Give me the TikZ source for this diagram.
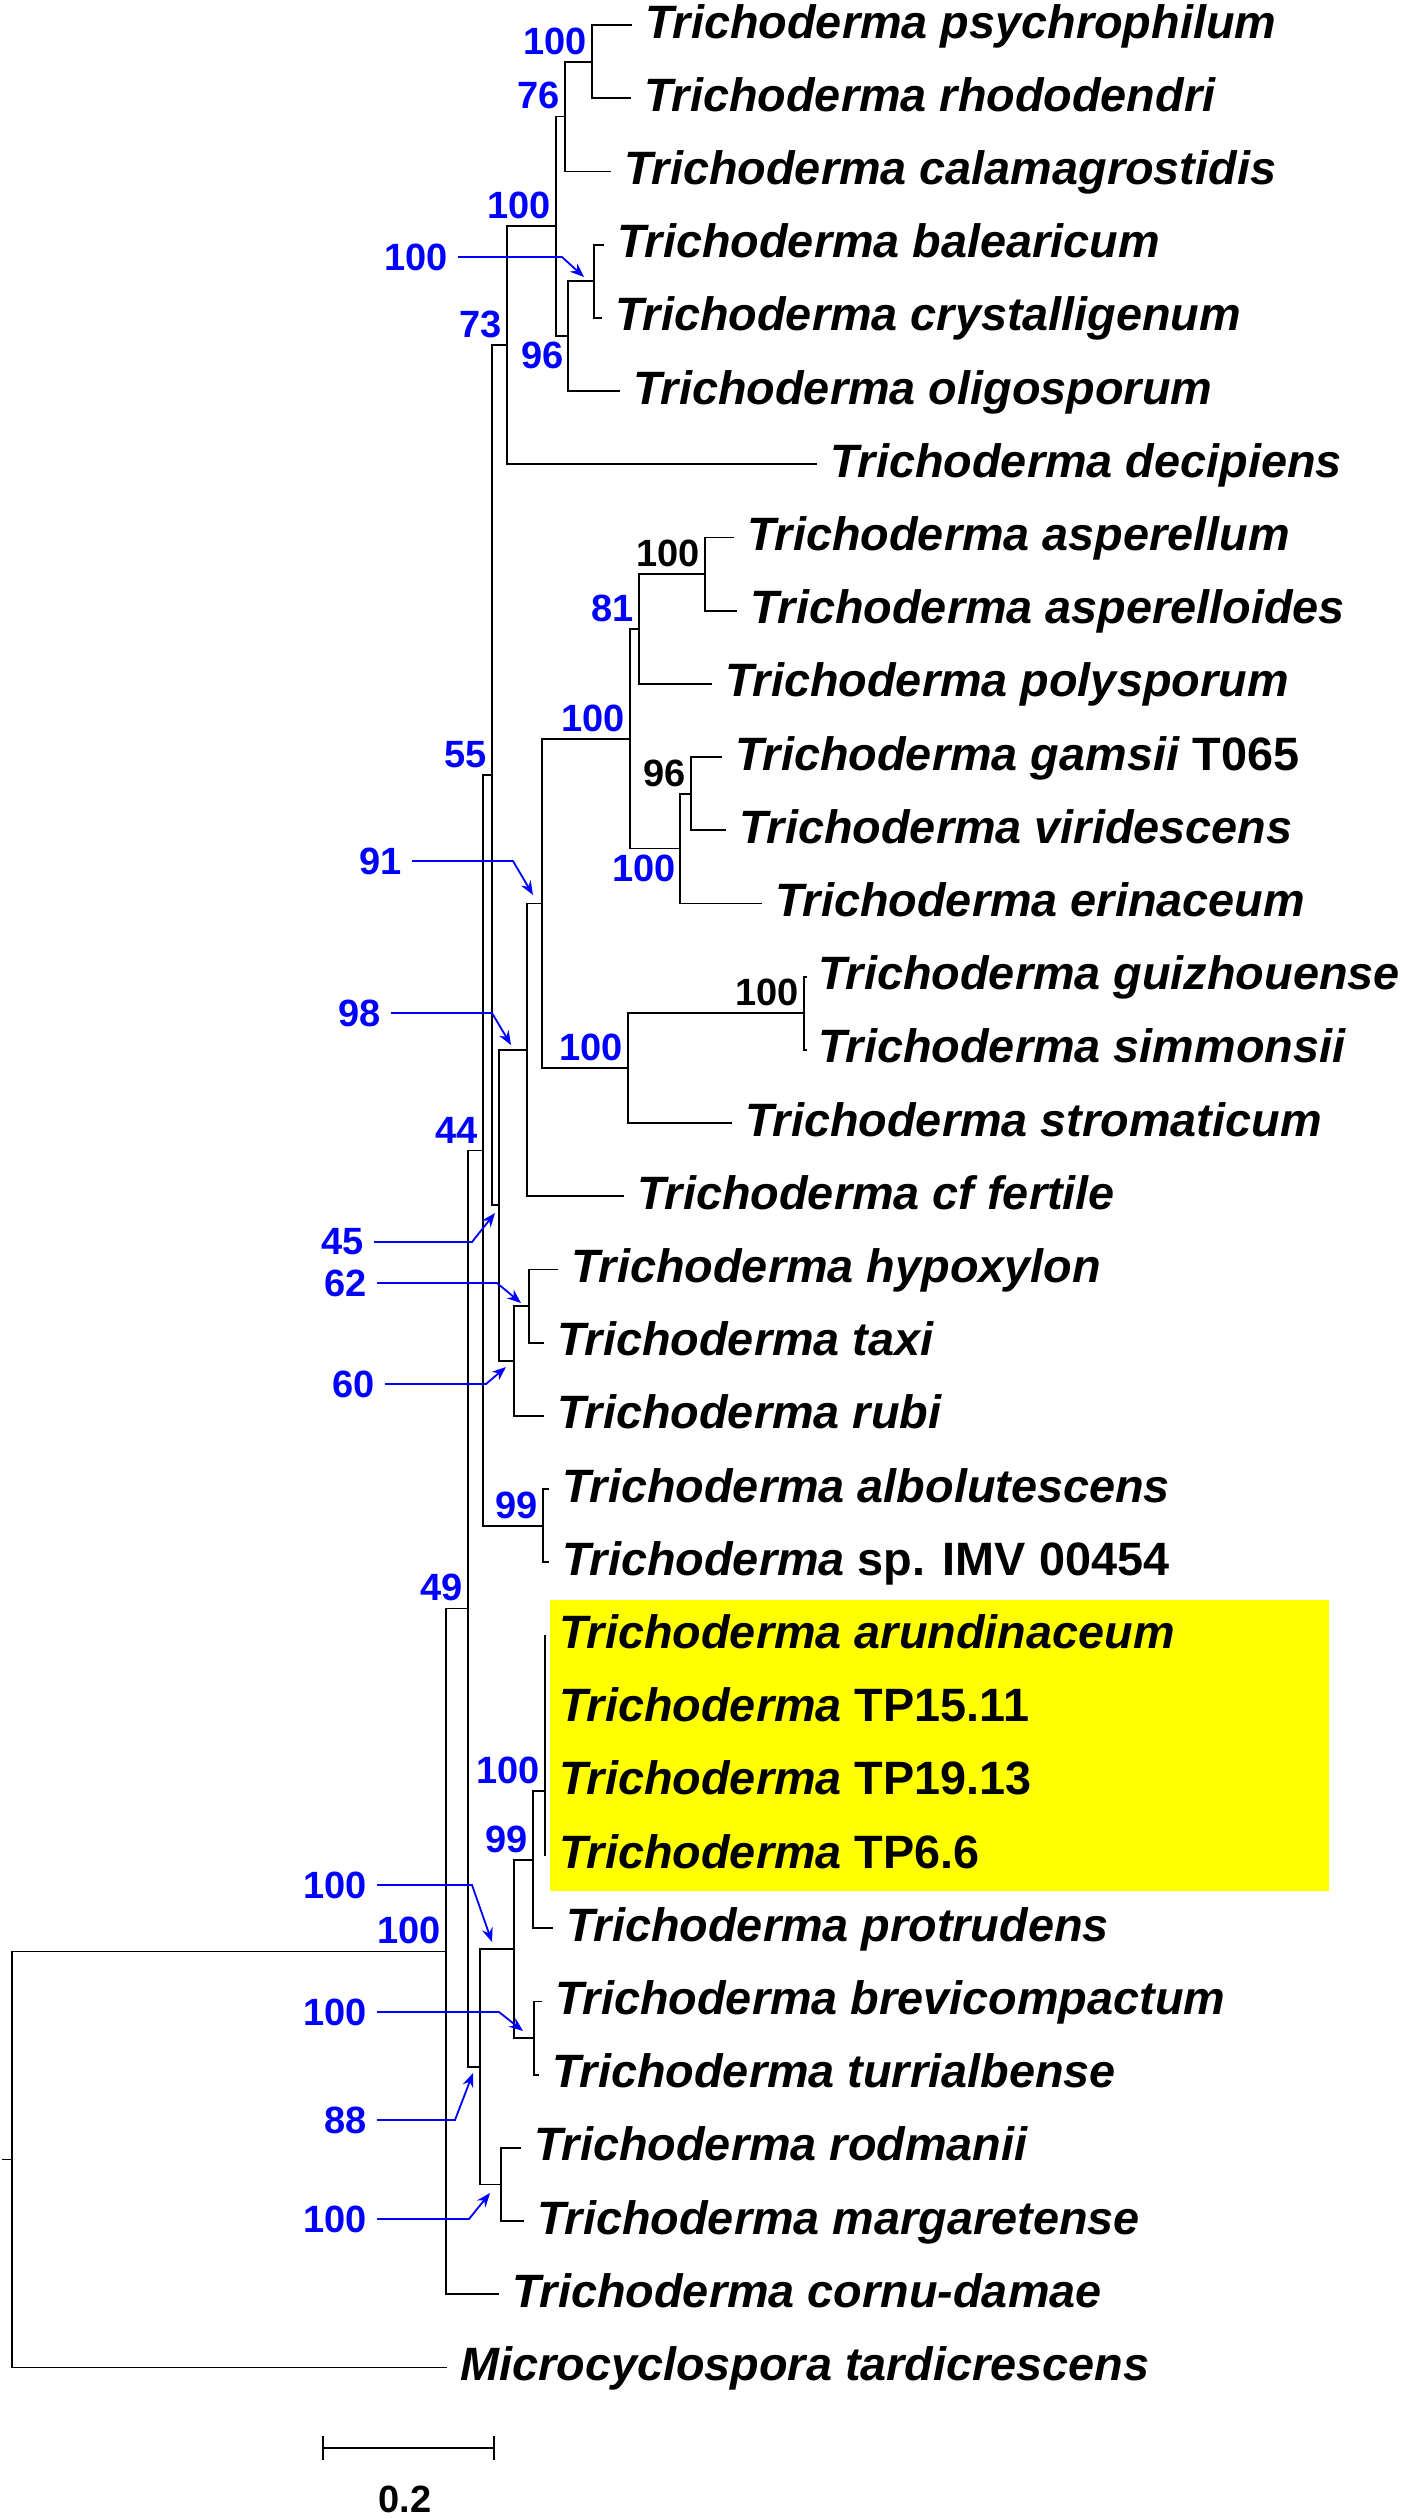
\documentclass[tikz,border=0pt]{standalone}
\usepackage{fontspec}
\setmainfont{Liberation Sans}
\usetikzlibrary{arrows.meta}
\definecolor{bsblue}{RGB}{0,0,255}
\definecolor{hlyellow}{RGB}{255,255,0}
\newcommand\leaffont{\fontsize{46.8}{50}\selectfont\bfseries\itshape}
\newcommand\bsfont{\fontsize{38}{40}\selectfont\bfseries}
\tikzset{
  br/.style={line width=1.8pt, draw=black, line cap=rect},
  leaf/.style={anchor=base west, inner sep=0pt, xshift=14pt, yshift=-13pt, font=\leaffont},
  bsa/.style={anchor=south east, inner sep=0pt, xshift=-5pt, yshift=7pt, font=\bsfont, text=bsblue},
  bsb/.style={anchor=north east, inner sep=0pt, xshift=-4pt, yshift=-6pt, font=\bsfont, text=bsblue},
  bka/.style={bsa, text=black},
  bsl/.style={anchor=east, inner xsep=10pt, inner ysep=0pt, font=\bsfont, text=bsblue},
  barrow/.style={line width=1.8pt, draw=bsblue, -{Stealth[length=14pt,width=11pt]}},
}
\begin{document}
\begin{tikzpicture}[x=1pt,y=-1pt]
\fill[white] (0,0) rectangle (1407,2519);
\useasboundingbox (0,0) rectangle (1407,2519);
% highlight box
\fill[hlyellow] (550,1600) rectangle (1329,1891);

% leaf tips
\coordinate (L0) at (631,25);
\coordinate (L1) at (630,98.2);
\coordinate (L2) at (610,171.4);
\coordinate (L3) at (603,244.6);
\coordinate (L4) at (601,317.8);
\coordinate (L5) at (619,391);
\coordinate (L6) at (816,464.2);
\coordinate (L7) at (733,537.4);
\coordinate (L8) at (736,610.6);
\coordinate (L9) at (711,683.8);
\coordinate (L10) at (721,757);
\coordinate (L11) at (725,830.2);
\coordinate (L12) at (761,903.4);
\coordinate (L13) at (806,976.6);
\coordinate (L14) at (806,1049.8);
\coordinate (L15) at (731,1123);
\coordinate (L16) at (623,1196.2);
\coordinate (L17) at (557,1269.4);
\coordinate (L18) at (543,1342.6);
\coordinate (L19) at (543,1415.8);
\coordinate (L20) at (548,1489);
\coordinate (L21) at (548,1562.2);
\coordinate (L22) at (545,1635.4);
\coordinate (L23) at (545,1708.6);
\coordinate (L24) at (545,1781.8);
\coordinate (L25) at (545,1855);
\coordinate (L26) at (552,1928.2);
\coordinate (L27) at (541,2001.4);
\coordinate (L28) at (538,2074.6);
\coordinate (L29) at (520,2147.8);
\coordinate (L30) at (523,2221);
\coordinate (L31) at (498,2294.2);
\coordinate (L32) at (446,2367.4);

% internal nodes
\coordinate (Npsy) at (592,61.6);
\coordinate (N76) at (565,116.5);
\coordinate (Nbal) at (594,281.2);
\coordinate (N96) at (568,336.1);
\coordinate (N100u) at (556,226.3);
\coordinate (N73) at (507,345.25);
\coordinate (Nasp) at (705,574);
\coordinate (N81) at (639,628.9);
\coordinate (N96b) at (691,793.6);
\coordinate (N100c) at (680,848.5);
\coordinate (N100a) at (630,738.7);
\coordinate (Nguiz) at (804,1013.2);
\coordinate (N100b) at (628,1068.1);
\coordinate (N91) at (542,903.4);
\coordinate (N98) at (527,1049.8);
\coordinate (N62) at (529,1306);
\coordinate (N60) at (514,1360.9);
\coordinate (N45) at (499,1205.35);
\coordinate (N55) at (492,775.3);
\coordinate (Nalbo) at (543,1525.6);
\coordinate (N44) at (483,1150.45);
\coordinate (Ntp) at (545,1791);
\coordinate (N99tp) at (533,1859.6);
\coordinate (Nbrev) at (534,2038);
\coordinate (N100d) at (514,1948.8);
\coordinate (Nrod) at (501,2184.4);
\coordinate (N88) at (480,2066.6);
\coordinate (N49) at (468,1608.5);
\coordinate (C) at (446,1951.4);
\coordinate (R) at (12,2159.4);
\coordinate (Rstub) at (3,2159.4);

% branches
\draw[br] (R) |- (C); \draw[br] (R) |- (L32); \draw[br] (R) -- (Rstub);
\draw[br] (C) |- (N49); \draw[br] (C) |- (L31);
\draw[br] (N49) |- (N44); \draw[br] (N49) |- (N88);
\draw[br] (N44) |- (N55); \draw[br] (N44) |- (Nalbo);
\draw[br] (N55) |- (N73); \draw[br] (N55) |- (N45);
\draw[br] (N73) |- (N100u); \draw[br] (N73) |- (L6);
\draw[br] (N100u) |- (N76); \draw[br] (N100u) |- (N96);
\draw[br] (N76) |- (Npsy); \draw[br] (N76) |- (L2);
\draw[br] (Npsy) |- (L0); \draw[br] (Npsy) |- (L1);
\draw[br] (N96) |- (Nbal); \draw[br] (N96) |- (L5);
\draw[br] (Nbal) |- (L3); \draw[br] (Nbal) |- (L4);
\draw[br] (N45) |- (N98); \draw[br] (N45) |- (N60);
\draw[br] (N98) |- (N91); \draw[br] (N98) |- (L16);
\draw[br] (N91) |- (N100a); \draw[br] (N91) |- (N100b);
\draw[br] (N100a) |- (N81); \draw[br] (N100a) |- (N100c);
\draw[br] (N81) |- (Nasp); \draw[br] (N81) |- (L9);
\draw[br] (Nasp) |- (L7); \draw[br] (Nasp) |- (L8);
\draw[br] (N100c) |- (N96b); \draw[br] (N100c) |- (L12);
\draw[br] (N96b) |- (L10); \draw[br] (N96b) |- (L11);
\draw[br] (N100b) |- (Nguiz); \draw[br] (N100b) |- (L15);
\draw[br] (Nguiz) |- (L13); \draw[br] (Nguiz) |- (L14);
\draw[br] (N60) |- (N62); \draw[br] (N60) |- (L19);
\draw[br] (N62) |- (L17); \draw[br] (N62) |- (L18);
\draw[br] (Nalbo) |- (L20); \draw[br] (Nalbo) |- (L21);
\draw[br] (N88) |- (N100d); \draw[br] (N88) |- (Nrod);
\draw[br] (N100d) |- (N99tp); \draw[br] (N100d) |- (Nbrev);
\draw[br] (N99tp) |- (Ntp); \draw[br] (N99tp) |- (L26);
\draw[br] (Ntp) |- (L22); \draw[br] (Ntp) |- (L23); \draw[br] (Ntp) |- (L24); \draw[br] (Ntp) |- (L25);
\draw[br] (Nbrev) |- (L27); \draw[br] (Nbrev) |- (L28);
\draw[br] (Nrod) |- (L29); \draw[br] (Nrod) |- (L30);

% leaf labels
\node[leaf] (t0) at (L0) {Trichoderma psychrophilum};
\node[leaf] (t1) at (L1) {Trichoderma rhododendri};
\node[leaf] (t2) at (L2) {Trichoderma calamagrostidis};
\node[leaf] (t3) at (L3) {Trichoderma balearicum};
\node[leaf] (t4) at (L4) {Trichoderma crystalligenum};
\node[leaf] (t5) at (L5) {Trichoderma oligosporum};
\node[leaf] (t6) at (L6) {Trichoderma decipiens};
\node[leaf] (t7) at (L7) {Trichoderma asperellum};
\node[leaf] (t8) at (L8) {Trichoderma asperelloides};
\node[leaf] (t9) at (L9) {Trichoderma polysporum};
\node[leaf] (t10) at (L10) {Trichoderma gamsii \textup{T065}};
\node[leaf] (t11) at (L11) {Trichoderma viridescens};
\node[leaf] (t12) at (L12) {Trichoderma erinaceum};
\node[leaf, xshift=-2pt] (t13) at (L13) {Trichoderma guizhouense};
\node[leaf, xshift=-2pt] (t14) at (L14) {Trichoderma simmonsii};
\node[leaf] (t15) at (L15) {Trichoderma stromaticum};
\node[leaf] (t16) at (L16) {Trichoderma cf fertile};
\node[leaf] (t17) at (L17) {Trichoderma hypoxylon};
\node[leaf] (t18) at (L18) {Trichoderma taxi};
\node[leaf] (t19) at (L19) {Trichoderma rubi};
\node[leaf] (t20) at (L20) {Trichoderma albolutescens};
\node[leaf] (t21) at (L21) {Trichoderma \textup{sp. IMV 00454}};
\node[leaf] (t22) at (L22) {Trichoderma arundinaceum};
\node[leaf] (t23) at (L23) {Trichoderma \textup{TP15.11}};
\node[leaf] (t24) at (L24) {Trichoderma \textup{TP19.13}};
\node[leaf] (t25) at (L25) {Trichoderma \textup{TP6.6}};
\node[leaf] (t26) at (L26) {Trichoderma protrudens};
\node[leaf] (t27) at (L27) {Trichoderma brevicompactum};
\node[leaf] (t28) at (L28) {Trichoderma turrialbense};
\node[leaf] (t29) at (L29) {Trichoderma rodmanii};
\node[leaf] (t30) at (L30) {Trichoderma margaretense};
\node[leaf] (t31) at (L31) {Trichoderma cornu-damae};
\node[leaf] (t32) at (L32) {Microcyclospora tardicrescens};

% bootstrap labels at nodes
\node[bsa] (bpsy) at (Npsy) {100};
\node[bsa] (b76) at (N76) {76};
\node[bsa] (b100u) at (N100u) {100};
\node[bsb] (b96) at (N96) {96};
\node[bsa] (b73) at (N73) {73};
\node[bsa] (b55) at (N55) {55};
\node[bsa] (b100a) at (N100a) {100};
\node[bsa] (b81) at (N81) {81};
\node[bka] (basp) at (Nasp) {100};
\node[bka] (b96b) at (N96b) {96};
\node[bsb] (b100c) at (N100c) {100};
\node[bka] (bguiz) at (Nguiz) {100};
\node[bsa] (b100b) at (N100b) {100};
\node[bsa] (b44) at (N44) {44};
\node[bsa] (balbo) at (Nalbo) {99};
\node[bsa] (b49) at (N49) {49};
\node[bsa] (btp) at (Ntp) {100};
\node[bsa] (b99tp) at (N99tp) {99};
\node[bsa] (bC) at (C) {100};

% bootstrap labels with arrows
\node[bsl] (abal) at (458,257) {100};
\coordinate (abalb) at (562,257); \coordinate (abalt) at (584,277);
\draw[barrow] (abal.east) -- (abalb) -- (abalt);

\node[bsl] (a91) at (412,861) {91};
\coordinate (a91b) at (513,861); \coordinate (a91t) at (533,895);
\draw[barrow] (a91.east) -- (a91b) -- (a91t);

\node[bsl] (a98) at (391,1013) {98};
\coordinate (a98b) at (492,1013); \coordinate (a98t) at (511,1045);
\draw[barrow] (a98.east) -- (a98b) -- (a98t);

\node[bsl] (a45) at (374,1242) {45};
\coordinate (a45b) at (472,1242); \coordinate (a45t) at (495,1213);
\draw[barrow] (a45.east) -- (a45b) -- (a45t);

\node[bsl] (a62) at (377,1283) {62};
\coordinate (a62b) at (497,1283); \coordinate (a62t) at (521,1303);
\draw[barrow] (a62.east) -- (a62b) -- (a62t);

\node[bsl] (a60) at (385,1384) {60};
\coordinate (a60b) at (486,1384); \coordinate (a60t) at (506,1367);
\draw[barrow] (a60.east) -- (a60b) -- (a60t);

\node[bsl] (a100d) at (377,1885) {100};
\coordinate (a100db) at (472,1885); \coordinate (a100dt) at (492,1942);
\draw[barrow] (a100d.east) -- (a100db) -- (a100dt);

\node[bsl] (abrev) at (377,2012) {100};
\coordinate (abrevb) at (499,2012); \coordinate (abrevt) at (523,2031);
\draw[barrow] (abrev.east) -- (abrevb) -- (abrevt);

\node[bsl] (a88) at (377,2120) {88};
\coordinate (a88b) at (455,2120); \coordinate (a88t) at (473,2073);
\draw[barrow] (a88.east) -- (a88b) -- (a88t);

\node[bsl] (arod) at (377,2219) {100};
\coordinate (arodb) at (469,2219); \coordinate (arodt) at (490,2193);
\draw[barrow] (arod.east) -- (arodb) -- (arodt);

% scale bar
\coordinate (sbL) at (323,2448); \coordinate (sbR) at (494,2448);
\draw[line width=1.8pt] (sbL) -- (sbR);
\draw[line width=1.8pt] ([yshift=12pt]sbL) -- ([yshift=-12pt]sbL);
\draw[line width=1.8pt] ([yshift=12pt]sbR) -- ([yshift=-12pt]sbR);
\node[font=\bsfont, inner sep=0pt] (sbt) at (405,2499) {0.2};
\end{tikzpicture}
\end{document}
